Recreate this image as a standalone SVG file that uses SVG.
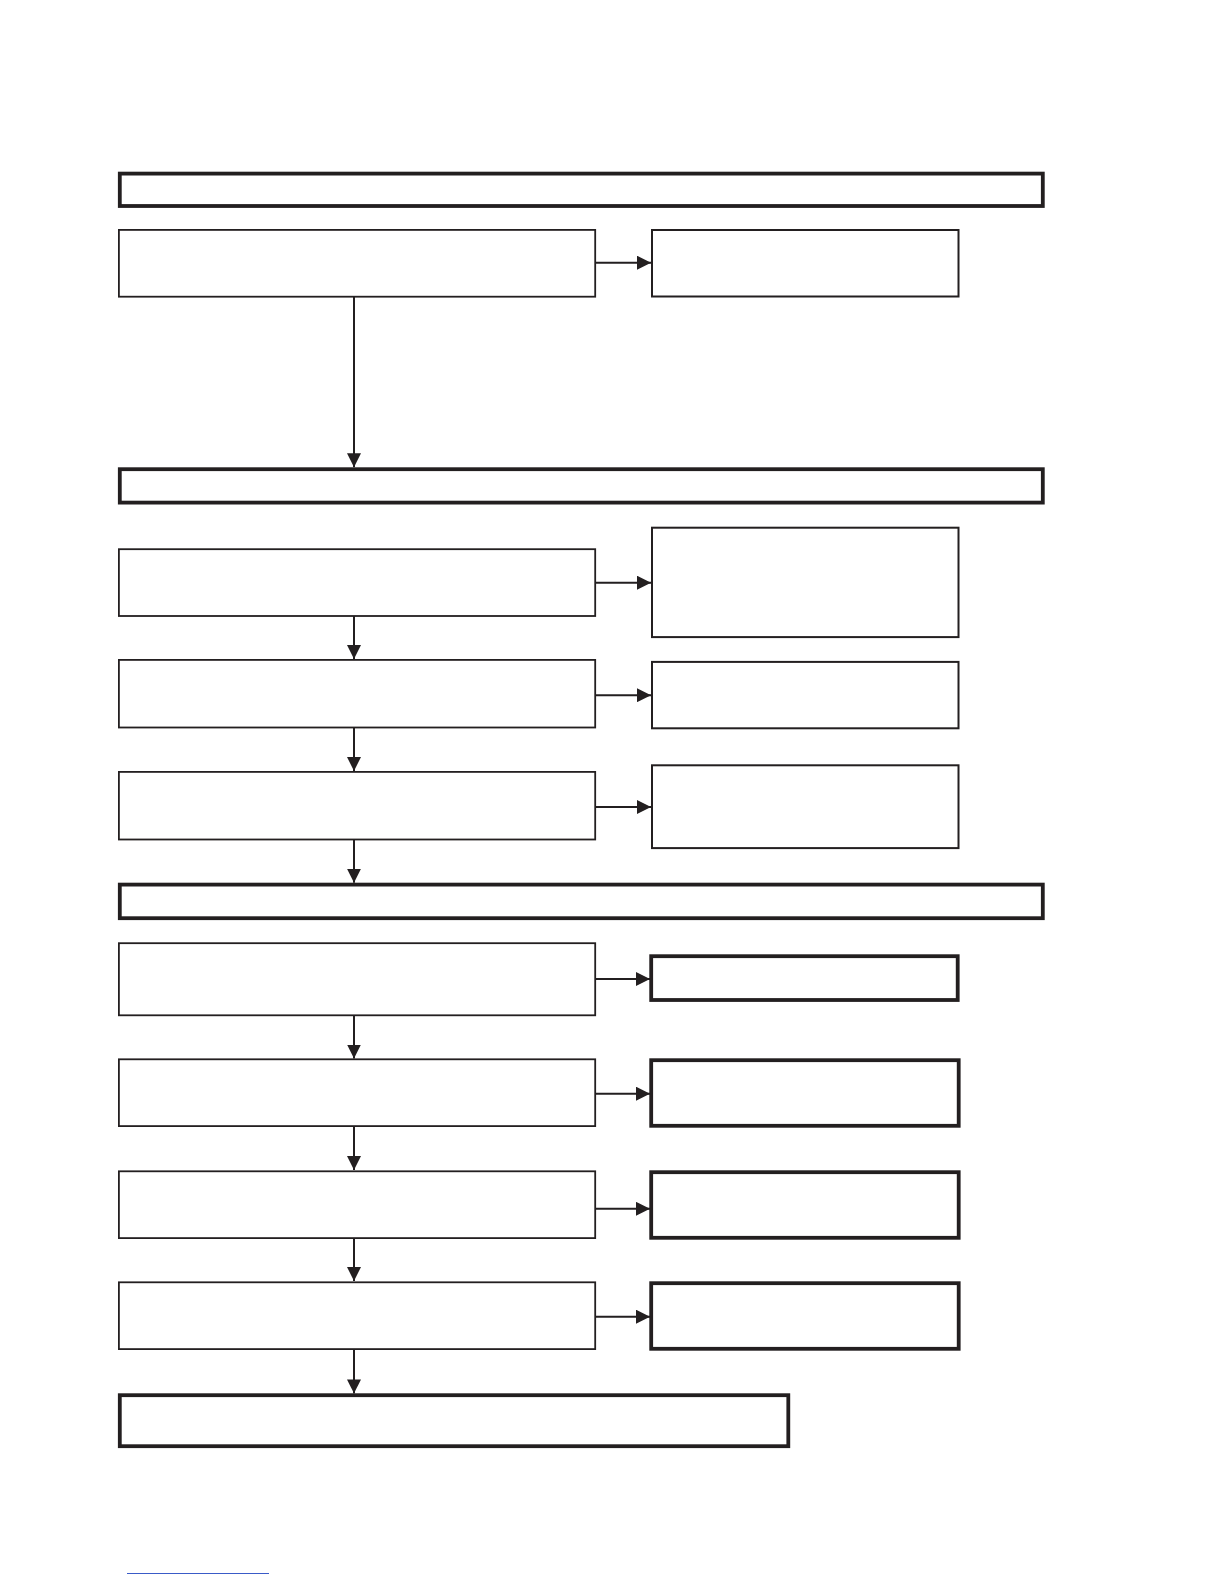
<svg xmlns="http://www.w3.org/2000/svg" width="1224" height="1584" viewBox="0 0 1224 1584">
<style>
.thin{fill:#fff;stroke:#231f20;stroke-width:1.8}
.side{fill:#fff;stroke:#231f20;stroke-width:2}
.thick{fill:#fff;stroke:#231f20;stroke-width:3.8}
.con{fill:none;stroke:#231f20;stroke-width:2}
</style>
<defs>
<marker id="ah" viewBox="0 0 14 14" refX="14" refY="7" markerWidth="14" markerHeight="14" markerUnits="userSpaceOnUse" orient="auto">
<path d="M0,0 L14,7 L0,14 Z" fill="#231f20"/>
</marker>
</defs>
<rect width="1224" height="1584" fill="#fff"/>
<g id="connectors">
<line class="con" x1="596" y1="262.7" x2="651" y2="262.7" marker-end="url(#ah)"/>
<line class="con" x1="354" y1="296.7" x2="354" y2="467.3" marker-end="url(#ah)"/>
<line class="con" x1="596" y1="582.7" x2="651" y2="582.7" marker-end="url(#ah)"/>
<line class="con" x1="354" y1="616" x2="354" y2="659" marker-end="url(#ah)"/>
<line class="con" x1="596" y1="695.2" x2="651" y2="695.2" marker-end="url(#ah)"/>
<line class="con" x1="354" y1="727.5" x2="354" y2="771" marker-end="url(#ah)"/>
<line class="con" x1="596" y1="807" x2="651" y2="807" marker-end="url(#ah)"/>
<line class="con" x1="354" y1="839.5" x2="354" y2="882.7" marker-end="url(#ah)"/>
<line class="con" x1="596" y1="979" x2="650" y2="979" marker-end="url(#ah)"/>
<line class="con" x1="354" y1="1015.3" x2="354" y2="1058.5" marker-end="url(#ah)"/>
<line class="con" x1="596" y1="1093.7" x2="650" y2="1093.7" marker-end="url(#ah)"/>
<line class="con" x1="354" y1="1126" x2="354" y2="1170" marker-end="url(#ah)"/>
<line class="con" x1="596" y1="1208.8" x2="650" y2="1208.8" marker-end="url(#ah)"/>
<line class="con" x1="354" y1="1238" x2="354" y2="1281" marker-end="url(#ah)"/>
<line class="con" x1="596" y1="1316.7" x2="650" y2="1316.7" marker-end="url(#ah)"/>
<line class="con" x1="354" y1="1349" x2="354" y2="1393.4" marker-end="url(#ah)"/>
</g>
<g id="header1"><rect class="thick" x="119.8" y="173.6" width="923" height="32.4"/></g>
<g id="boxA"><rect class="thin" x="118.9" y="229.9" width="476.3" height="66.8"/></g>
<g id="boxA-side"><rect class="side" x="652" y="230" width="306.5" height="66.5"/></g>
<g id="header2"><rect class="thick" x="119.8" y="469.2" width="923" height="33.4"/></g>
<g id="boxB1"><rect class="thin" x="118.9" y="549.2" width="476.3" height="66.8"/></g>
<g id="boxB1-side"><rect class="side" x="652" y="527.7" width="306.5" height="109.4"/></g>
<g id="boxB2"><rect class="thin" x="118.9" y="659.9" width="476.3" height="67.6"/></g>
<g id="boxB2-side"><rect class="side" x="652" y="661.9" width="306.5" height="66.4"/></g>
<g id="boxB3"><rect class="thin" x="118.9" y="771.9" width="476.3" height="67.6"/></g>
<g id="boxB3-side"><rect class="side" x="652" y="765.3" width="306.5" height="82.8"/></g>
<g id="header3"><rect class="thick" x="119.8" y="884.6" width="923" height="33.6"/></g>
<g id="boxC1"><rect class="thin" x="118.9" y="943.2" width="476.3" height="72.1"/></g>
<g id="boxC1-side"><rect class="thick" x="651.2" y="956.2" width="306.5" height="43.8"/></g>
<g id="boxC2"><rect class="thin" x="118.9" y="1059.3" width="476.3" height="66.8"/></g>
<g id="boxC2-side"><rect class="thick" x="651.2" y="1060.2" width="307.5" height="65.6"/></g>
<g id="boxC3"><rect class="thin" x="118.9" y="1171.3" width="476.3" height="66.8"/></g>
<g id="boxC3-side"><rect class="thick" x="651.2" y="1172.2" width="307.5" height="65.6"/></g>
<g id="boxC4"><rect class="thin" x="118.9" y="1282.3" width="476.3" height="66.8"/></g>
<g id="boxC4-side"><rect class="thick" x="651.2" y="1283.2" width="307.5" height="65.6"/></g>
<g id="final"><rect class="thick" x="119.8" y="1395.2" width="668.5" height="51"/></g>
<line x1="127" y1="1573.5" x2="269" y2="1573.5" stroke="#3a5bc8" stroke-width="1.2"/>
</svg>
